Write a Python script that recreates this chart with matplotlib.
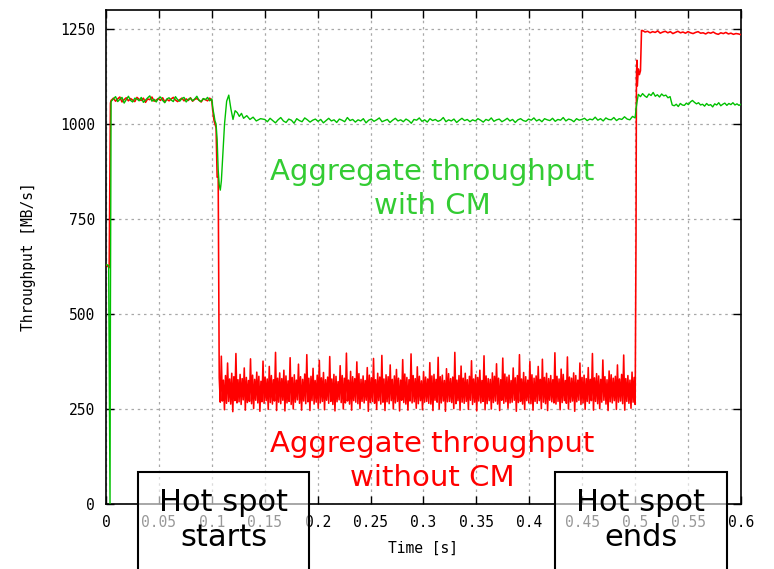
import numpy as np
import matplotlib.pyplot as plt
from matplotlib.patches import Rectangle

# ---- data (MB/s over time in s) ----
x_ticks = [0, 0.05, 0.1, 0.15, 0.2, 0.25, 0.3, 0.35, 0.4, 0.45, 0.5, 0.55, 0.6]
x_tick_labels = ['0', '0.05', '0.1', '0.15', '0.2', '0.25', '0.3', '0.35', '0.4',
                 '0.45', '0.5', '0.55', '0.6']
y_ticks = [0, 250, 500, 750, 1000, 1250]

# without CM (red)
red_start_t = [0.0, 0.003, 0.0042, 0.0048]
red_start_v = [630, 622, 1055, 1062]
red_pre = [1062, 1068, 1060, 1066, 1071, 1058, 1064, 1069, 1061, 1067, 1063, 1059,
           1070, 1065, 1062, 1068, 1057, 1066, 1064, 1071, 1060, 1063, 1067, 1062,
           1069, 1058, 1065, 1061, 1066, 1070, 1063, 1059, 1064, 1068, 1061, 1066,
           1062, 1069, 1060, 1065, 1067, 1063, 1058, 1066, 1064, 1061, 1068, 1062]
red_dip_t = [0.1005, 0.102, 0.103, 0.104, 0.105, 0.106]
red_dip_v = [1045, 1010, 1000, 990, 860, 860]
red_band = [332, 268, 389, 271, 326, 248, 338, 265, 371, 270, 329, 263, 344, 243, 335, 272, 396, 266, 327, 269,
            341, 262, 330, 274, 358, 247, 333, 267, 325, 270, 382, 264, 339, 251, 328, 273, 347, 266, 336, 244,
            323, 269, 376, 265, 334, 272, 329, 249, 362, 267, 338, 263, 327, 271, 399, 246, 331, 268, 345, 264,
            330, 273, 352, 245, 337, 266, 324, 270, 385, 262, 333, 250, 340, 268, 326, 274, 368, 265, 335, 247,
            328, 271, 342, 264, 393, 269, 331, 246, 336, 272, 357, 263, 325, 268, 339, 252, 378, 266, 332, 270,
            346, 248, 327, 273, 334, 265, 388, 270, 329, 262, 341, 245, 336, 269, 322, 274, 364, 267, 338, 250,
            331, 266, 397, 271, 326, 263, 349, 247, 335, 272, 330, 268, 374, 264, 343, 251, 328, 270, 337, 266,
            325, 273, 359, 244, 339, 267, 332, 270, 383, 265, 327, 249, 344, 272, 334, 263, 391, 268, 329, 246,
            340, 269, 335, 264, 366, 272, 328, 250, 337, 266, 354, 270, 331, 245, 326, 273, 380, 267, 342, 263,
            333, 247, 327, 271, 395, 266, 338, 269, 330, 252, 361, 264, 336, 272, 324, 248, 348, 268, 334, 270,
            329, 265, 372, 263, 337, 246, 341, 273, 328, 268, 386, 250, 335, 266, 339, 271, 325, 244, 356, 269,
            343, 270, 330, 267, 334, 251, 399, 264, 326, 272, 338, 247, 363, 268, 331, 265, 344, 270, 327, 249,
            336, 273, 377, 262, 329, 268, 340, 245, 333, 271, 352, 266, 325, 270, 390, 248, 337, 264, 330, 272,
            328, 250, 345, 267, 336, 271, 369, 263, 331, 246, 327, 273, 384, 265, 342, 269, 334, 252, 339, 266,
            325, 268, 358, 273, 332, 244, 338, 267, 393, 270, 329, 263, 346, 249, 335, 272, 326, 266, 375, 264,
            340, 247, 331, 270, 337, 265, 362, 272, 328, 251, 381, 268, 333, 264, 344, 246, 330, 273, 338, 269,
            327, 266, 398, 263, 336, 270, 329, 248, 355, 267, 341, 272, 325, 265, 387, 250, 334, 268, 331, 271,
            345, 244, 338, 269, 326, 273, 371, 262, 333, 266, 339, 249, 330, 270, 359, 265, 328, 272, 396, 247,
            332, 270, 343, 264, 337, 251, 328, 268, 379, 273, 335, 263, 327, 246, 350, 269, 340, 266, 331, 272,
            336, 249, 366, 268, 329, 271, 341, 264, 392, 247, 330, 270, 338, 265, 326, 252, 347, 268, 333, 262]
red_rise_t = [0.5008, 0.5012, 0.5016, 0.502, 0.503, 0.504, 0.505, 0.506]
red_rise_v = [700, 1120, 1168, 1100, 1145, 1130, 1140, 1246]
red_post = [1246, 1242, 1244, 1240, 1243, 1241, 1245, 1239, 1242, 1244, 1240, 1243, 1238, 1241,
            1244, 1240, 1242, 1239, 1243, 1240, 1238, 1241, 1243, 1239, 1240, 1237, 1241, 1239,
            1242, 1238, 1236, 1240, 1238, 1241, 1237, 1239, 1236, 1238, 1237, 1235]

# with CM (green)
green_start_t = [0.0, 0.0025, 0.0038, 0.0042, 0.0048]
green_start_v = [630, 628, 0, 530, 1058]
green_pre = [1060, 1066, 1072, 1059, 1065, 1070, 1055, 1064, 1073, 1062, 1058, 1068,
             1066, 1061, 1070, 1057, 1063, 1069, 1074, 1060, 1065, 1058, 1067, 1071,
             1062, 1056, 1066, 1069, 1063, 1059, 1072, 1064, 1060, 1067, 1070, 1058,
             1065, 1068, 1061, 1066, 1073, 1062, 1059, 1067, 1064, 1070, 1061, 1066]
green_dip_t = [0.101, 0.102, 0.103, 0.104, 0.105, 0.106, 0.107, 0.108, 0.109, 0.110,
               0.112, 0.114, 0.116, 0.118, 0.120, 0.122, 0.124, 0.126, 0.128, 0.130,
               0.133, 0.136, 0.139, 0.142, 0.146]
green_dip_v = [1040, 1025, 1008, 1000, 960, 880, 840, 826, 850, 900,
               1000, 1060, 1076, 1040, 1012, 1035, 1030, 1020, 1028, 1015,
               1022, 1012, 1018, 1008, 1014]
green_mid = [1012, 1006, 1015, 1009, 1003, 1011, 1017, 1008, 1004, 1013, 1010, 1002, 1014, 1009, 1006, 1016, 1011, 1005, 1010, 1013,
             1007, 1012, 1003, 1009, 1015, 1008, 1011, 1004, 1013, 1010, 1006, 1017, 1009, 1012, 1005, 1011, 1008, 1014, 1003, 1010,
             1013, 1007, 1011, 1016, 1006, 1009, 1012, 1004, 1010, 1015, 1008, 1011, 1006, 1013, 1009, 1002, 1012, 1010, 1016, 1007,
             1011, 1005, 1014, 1009, 1012, 1007, 1010, 1017, 1006, 1011, 1008, 1013, 1004, 1010, 1015, 1009, 1012, 1006, 1011, 1008,
             1014, 1010, 1005, 1012, 1009, 1016, 1007, 1011, 1013, 1006, 1010, 1015, 1008, 1012, 1004, 1011, 1014, 1009, 1007, 1013,
             1010, 1016, 1008, 1012, 1006, 1014, 1011, 1009, 1015, 1007, 1012, 1010, 1017, 1008, 1013, 1011, 1006, 1014, 1010, 1012,
             1015, 1009, 1013, 1011, 1018, 1010, 1014, 1008, 1016, 1012, 1011, 1017, 1009, 1014, 1012, 1019, 1013, 1011, 1020, 1016]
green_rise_t = [0.5008, 0.502]
green_rise_v = [1040, 1062]
green_post1 = [1078, 1072, 1080, 1074, 1070, 1079, 1075, 1083, 1073, 1077, 1071, 1079, 1074, 1076, 1069, 1072]
green_post2 = [1050, 1048, 1052, 1046, 1054, 1050, 1049, 1055, 1051, 1058, 1062, 1057, 1053, 1056, 1050, 1052, 1047,
               1054, 1049, 1051, 1045, 1053, 1050, 1056, 1048, 1052, 1055, 1049, 1054, 1051, 1056, 1050, 1053, 1049, 1052]

# sample times for the evenly sampled stretches
red_t = np.concatenate([red_start_t, np.linspace(0.005, 0.1, len(red_pre)), red_dip_t,
                        np.linspace(0.107, 0.5, len(red_band)), red_rise_t,
                        np.linspace(0.507, 0.6, len(red_post))])
red_v = np.concatenate([red_start_v, red_pre, red_dip_v, red_band, red_rise_v, red_post])

green_t = np.concatenate([green_start_t, np.linspace(0.005, 0.1, len(green_pre)), green_dip_t,
                          np.linspace(0.15, 0.5, len(green_mid)), green_rise_t,
                          np.linspace(0.503, 0.533, len(green_post1)),
                          np.linspace(0.535, 0.6, len(green_post2))])
green_v = np.concatenate([green_start_v, green_pre, green_dip_v, green_mid, green_rise_v,
                          green_post1, green_post2])

W, H = 774, 569
fig = plt.figure(figsize=(W / 100, H / 100), dpi=100)
ax = fig.add_axes([106 / W, (H - 504) / H, 635 / W, 494 / H])

ax.plot(red_t, red_v, color='#ff0000', lw=1.15, zorder=3)
ax.plot(green_t, green_v, color='#00c000', lw=1.0, zorder=4)

ax.set_xlim(0, 0.6)
ax.set_ylim(0, 1300)
ax.set_xticks(x_ticks)
ax.set_xticklabels(x_tick_labels)
ax.set_yticks(y_ticks)
ax.grid(True, color='#a8a8a8', linestyle=(0, (2, 3)), linewidth=0.9)
ax.set_axisbelow(True)

mono = 'DejaVu Sans Mono'
ax.tick_params(direction='in', top=True, right=True, length=6, width=1, pad=8,
               labelsize=10.5)
for lab in ax.get_xticklabels() + ax.get_yticklabels():
    lab.set_family(mono)
for s in ax.spines.values():
    s.set_linewidth(1.2)

ax.set_xlabel('Time [s]', family=mono, fontsize=10.5)
ax.set_ylabel('Throughput [MB/s]', family=mono, fontsize=10.5)
ax.xaxis.set_label_coords(0.5, -0.075)
ax.yaxis.set_label_coords(-0.11, 0.5)

# annotations
hand = 'DejaVu Sans'
fig.text(432 / W, 1 - 189 / H, 'Aggregate throughput\nwith CM', color='#33cc33',
         fontsize=21, family=hand, ha='center', va='center', linespacing=1.25)
fig.text(432 / W, 1 - 461 / H, 'Aggregate throughput\nwithout CM', color='#ff0000',
         fontsize=21, family=hand, ha='center', va='center', linespacing=1.25)

for x0, x1, label in [(138, 309, 'Hot spot\nstarts'), (555, 727, 'Hot spot\nends')]:
    fig.add_artist(Rectangle((x0 / W, -0.05), (x1 - x0) / W, (H - 472) / H + 0.05,
                             transform=fig.transFigure, facecolor=(1, 1, 1, 0.6),
                             edgecolor='black', linewidth=1.5, zorder=5))
    fig.text((x0 + x1) / 2 / W, 1 - 520 / H, label, color='black', fontsize=22,
             family=hand, ha='center', va='center', linespacing=1.3, zorder=6)

fig.savefig('out.png', dpi=100)
